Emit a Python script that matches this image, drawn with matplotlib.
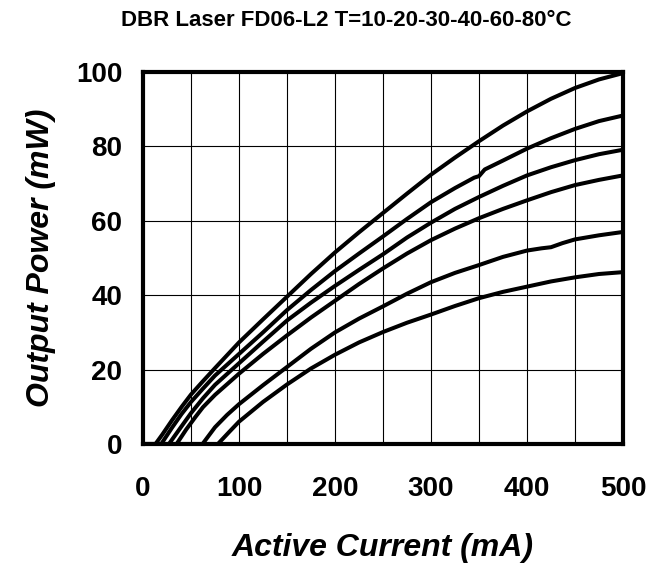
import matplotlib
matplotlib.use("Agg")
import matplotlib.pyplot as plt

plt.rcParams['font.family'] = ['Liberation Sans', 'DejaVu Sans']

title = "DBR Laser FD06-L2 T=10-20-30-40-60-80°C"
x_label = "Active Current (mA)"
y_label = "Output Power (mW)"
x_ticks = [0, 100, 200, 300, 400, 500]
y_ticks = [0, 20, 40, 60, 80, 100]

# 10 C
i_10 = [0, 13, 20, 30, 40, 50, 62.5, 75, 100, 125, 150, 175, 200, 225, 250, 275, 300, 325, 350, 375, 400, 425, 450, 475, 500]
p_10 = [0, 0, 2.5, 6.3, 9.9, 13.3, 16.9, 20.4, 27.3, 33.5, 39.6, 45.7, 51.5, 56.9, 62.1, 67.3, 72.4, 77.0, 81.4, 85.6, 89.4, 92.8, 95.7, 98.0, 99.7]
# 20 C
i_20 = [0, 19, 30, 40, 50, 62.5, 75, 100, 125, 150, 175, 200, 225, 250, 275, 300, 325, 345, 350, 356, 375, 400, 425, 450, 475, 500]
p_20 = [0, 0, 4.3, 8.0, 11.3, 14.9, 18.4, 24.2, 30.0, 36.0, 41.4, 46.5, 51.2, 55.8, 60.5, 65.0, 68.8, 71.6, 72.0, 73.8, 76.2, 79.4, 82.2, 84.7, 86.8, 88.3]
# 30 C
i_30 = [0, 27, 40, 50, 62.5, 75, 100, 125, 150, 175, 200, 225, 250, 275, 300, 325, 350, 375, 400, 425, 450, 475, 500]
p_30 = [0, 0, 4.7, 8.3, 12.3, 15.9, 21.7, 27.5, 33.2, 38.0, 42.5, 46.8, 51.0, 55.5, 59.5, 63.2, 66.4, 69.4, 72.2, 74.4, 76.3, 77.9, 79.1]
# 40 C
i_40 = [0, 35, 45, 55, 62.5, 75, 100, 125, 150, 175, 200, 225, 250, 275, 300, 325, 350, 375, 400, 425, 450, 475, 500]
p_40 = [0, 0, 3.9, 7.4, 9.9, 13.2, 18.9, 24.2, 29.2, 34.0, 38.5, 43.0, 47.2, 51.2, 54.8, 57.9, 60.7, 63.2, 65.5, 67.7, 69.6, 71.0, 72.2]
# 60 C
i_60 = [0, 62, 75, 87.5, 100, 125, 150, 175, 200, 225, 250, 275, 300, 325, 350, 375, 400, 415, 425, 437, 450, 475, 500]
p_60 = [0, 0, 4.5, 7.8, 10.7, 15.8, 20.7, 25.6, 30.0, 33.7, 37.0, 40.4, 43.5, 46.0, 48.1, 50.3, 52.0, 52.6, 52.9, 54.0, 55.0, 56.1, 57.0]
# 80 C
i_80 = [0, 78, 90, 100, 125, 150, 175, 200, 225, 250, 275, 300, 325, 350, 375, 400, 425, 450, 475, 500]
p_80 = [0, 0, 3.3, 6.0, 11.3, 16.0, 20.3, 24.0, 27.3, 30.1, 32.6, 34.8, 37.1, 39.2, 40.9, 42.3, 43.7, 44.8, 45.7, 46.2]

series = [(i_10, p_10), (i_20, p_20), (i_30, p_30), (i_40, p_40), (i_60, p_60), (i_80, p_80)]

fig = plt.figure(figsize=(6.65, 5.74), dpi=100)
ax = fig.add_axes([143/665, 1 - 444/574, (623-143)/665, (444-72)/574])

for xs, ys in series:
    ax.plot(xs, ys, color='black', lw=2.9, solid_joinstyle='round', zorder=3)

ax.set_xlim(0, 500)
ax.set_ylim(0, 100)
ax.set_xticks(x_ticks)
ax.set_yticks(y_ticks)
ax.set_xticks(range(0, 501, 50), minor=True)
ax.grid(True, which='both', color='black', lw=0.8, zorder=1)
ax.set_axisbelow(True)
ax.tick_params(which='both', length=0)
ax.tick_params(axis='x', pad=23)
ax.tick_params(axis='y', pad=15)
for lab in ax.get_xticklabels() + ax.get_yticklabels():
    lab.set_fontsize(20)
    lab.set_fontweight('bold')
for s in ax.spines.values():
    s.set_linewidth(3)
    s.set_zorder(4)

fig.text(346/665, 1 - 21/574, title, ha='center', va='center', fontsize=16, fontweight='bold')
fig.text(383/665, 1 - 548/574, x_label, ha='center', va='center', fontsize=23,
         fontweight='bold', style='italic')
fig.text(41/665, 1 - 258/574, y_label, ha='center', va='center', fontsize=23,
         fontweight='bold', style='italic', rotation=90)

fig.savefig('out.png', dpi=100)
